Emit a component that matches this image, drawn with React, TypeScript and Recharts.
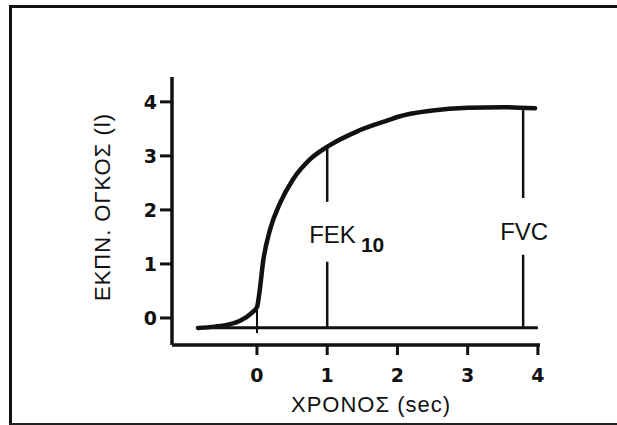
import { LineChart, Line, XAxis, YAxis, ReferenceLine } from 'recharts';

// spirometry curve (time in sec, exhaled volume in l)
const times = [-0.84, -0.6, -0.4, -0.24, -0.07, 0, 0.04, 0.085, 0.185, 0.33, 0.51, 0.75, 1.04, 1.42, 1.89, 2.0, 2.5, 3.0, 3.5, 3.96];
const volumes = [-0.185, -0.16, -0.12, -0.05, 0.1, 0.2, 0.52, 1.02, 1.63, 2.13, 2.56, 2.93, 3.2, 3.45, 3.67, 3.72, 3.84, 3.89, 3.9, 3.88];

const xTicks = [0, 1, 2, 3, 4];
const yTicks = [0, 1, 2, 3, 4];

const baseLevel = -0.18;
const fekTime = 1;
const fvcTime = 3.79;

const data = times.map((t, i) => ({ t, v: volumes[i] }));

const tickFont = { fontFamily: 'DejaVu Sans', fontWeight: 'bold', fontSize: 19, fill: '#111' };

const XTitle = ({ viewBox }: any) => (
  <text
    x={viewBox.x + viewBox.width / 2 + 15}
    y={viewBox.y + 67}
    textAnchor="middle"
    fontFamily="Liberation Sans"
    fontSize={22}
    letterSpacing={1}
    fill="#111"
  >
    ΧΡΟΝΟΣ (sec)
  </text>
);

const YTitle = () => (
  <text
    x={102}
    y={207}
    transform="rotate(-90 102 207)"
    textAnchor="middle"
    dominantBaseline="central"
    fontFamily="Liberation Sans"
    fontSize={22}
    letterSpacing={1}
    fill="#111"
  >
    ΕΚΠΝ. ΟΓΚΟΣ (l)
  </text>
);

const FekLabel = ({ viewBox }: any) => (
  <text x={viewBox.x - 18} y={viewBox.y + viewBox.height + 41} fontFamily="Liberation Sans" fill="#111">
    <tspan fontSize={24}>FEK</tspan>
    <tspan fontSize={21} fontWeight="bold" dx={5} dy={9}>10</tspan>
  </text>
);

const FvcLabel = ({ viewBox }: any) => (
  <text
    x={viewBox.x + 1}
    y={viewBox.y + viewBox.height + 42}
    textAnchor="middle"
    fontFamily="Liberation Sans"
    fontSize={24}
    fill="#111"
  >
    FVC
  </text>
);

export default function App() {
  return (
    <div
      style={{
        position: 'absolute',
        left: 0,
        top: 0,
        width: 617,
        height: 425,
        background: '#fff',
      }}
    >
      {/* scanned frame */}
      <div
        style={{
          position: 'absolute',
          left: 9,
          top: 5,
          width: 608,
          height: 415,
          borderLeft: '3px solid #111',
          borderTop: '3px solid #111',
          borderBottom: '3px solid #222',
        }}
      />
      <LineChart
        width={617}
        height={425}
        data={data}
        margin={{ top: 77, right: 77, bottom: 0, left: 0 }}
        style={{ position: 'absolute', left: 0, top: 0 }}
      >
        <XAxis
          dataKey="t"
          type="number"
          domain={[-1.21, 4.03]}
          ticks={xTicks}
          allowDataOverflow
          height={80}
          tickSize={10}
          tickMargin={14}
          axisLine={{ stroke: '#111', strokeWidth: 3.5 }}
          tickLine={{ stroke: '#111', strokeWidth: 3 }}
          tick={tickFont}
          label={<XTitle />}
        />
        <YAxis
          type="number"
          domain={[-0.5, 4.46]}
          ticks={yTicks}
          allowDataOverflow
          width={172}
          tickSize={12}
          tickMargin={3}
          axisLine={{ stroke: '#111', strokeWidth: 3.5 }}
          tickLine={{ stroke: '#111', strokeWidth: 3 }}
          tick={tickFont}
          label={<YTitle />}
        />
        <ReferenceLine
          segment={[{ x: -0.84, y: baseLevel }, { x: 4.0, y: baseLevel }]}
          stroke="#111"
          strokeWidth={3}
        />
        <ReferenceLine
          segment={[{ x: 0, y: 0.2 }, { x: 0, y: -0.28 }]}
          stroke="#111"
          strokeWidth={2}
        />
        <ReferenceLine
          segment={[{ x: fekTime, y: 3.19 }, { x: fekTime, y: 2.15 }]}
          stroke="#111"
          strokeWidth={2.5}
          label={<FekLabel />}
        />
        <ReferenceLine
          segment={[{ x: fekTime, y: 1.04 }, { x: fekTime, y: baseLevel }]}
          stroke="#111"
          strokeWidth={2.5}
        />
        <ReferenceLine
          segment={[{ x: fvcTime, y: 3.89 }, { x: fvcTime, y: 2.22 }]}
          stroke="#111"
          strokeWidth={2.5}
          label={<FvcLabel />}
        />
        <ReferenceLine
          segment={[{ x: fvcTime, y: 1.17 }, { x: fvcTime, y: baseLevel }]}
          stroke="#111"
          strokeWidth={2.5}
        />
        <Line
          dataKey="v"
          type="monotone"
          stroke="#111"
          strokeWidth={4.5}
          strokeLinecap="round"
          dot={false}
          activeDot={false}
          isAnimationActive={false}
        />
      </LineChart>
    </div>
  );
}
